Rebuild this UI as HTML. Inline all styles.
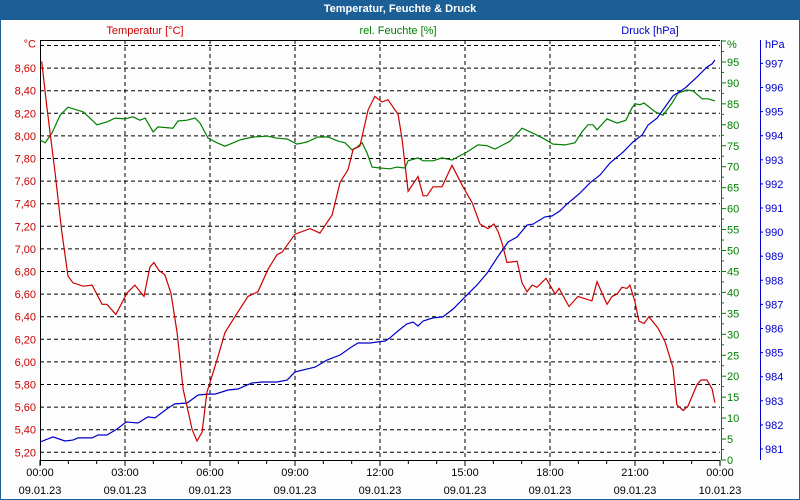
<!DOCTYPE html>
<html><head><meta charset="utf-8"><style>
body{margin:0;width:800px;height:500px;overflow:hidden;background:#fff;font-family:"Liberation Sans",sans-serif;}
#win{position:absolute;left:0;top:0;width:798px;height:498px;border:1px solid #1c5f96;background:#fdfdfd;}
#title{position:absolute;left:0;top:0;width:800px;height:20px;background:#1c5f96;color:#fff;font-weight:bold;font-size:11px;text-align:center;line-height:19px;}
svg{position:absolute;left:0;top:0;}
</style></head><body>
<div id="win"></div>
<div id="title">Temperatur, Feuchte &amp; Druck</div>
<svg id="chart" width="800" height="500"></svg>
<script>
const xTickLabels=["00:00","03:00","06:00","09:00","12:00","15:00","18:00","21:00","00:00"];
const xDateLabels=["09.01.23","09.01.23","09.01.23","09.01.23","09.01.23","09.01.23","09.01.23","09.01.23","10.01.23"];
const tempTicks=[5.2,5.4,5.6,5.8,6.0,6.2,6.4,6.6,6.8,7.0,7.2,7.4,7.6,7.8,8.0,8.2,8.4,8.6];
const humTicks=[0,5,10,15,20,25,30,35,40,45,50,55,60,65,70,75,80,85,90,95];
const presTicks=[981,982,983,984,985,986,987,988,989,990,991,992,993,994,995,996,997];
const tempTimes=[0.06,0.24,0.53,0.77,0.99,1.16,1.52,1.84,2.19,2.36,
2.68,3.07,3.35,3.67,3.88,4.02,4.20,4.41,4.62,4.84,
5.05,5.37,5.54,5.72,5.89,6.25,6.53,6.88,7.34,7.69,
8.05,8.37,8.54,9.00,9.53,9.88,10.31,10.59,10.87,11.05,
11.29,11.58,11.82,12.07,12.28,12.64,12.78,12.99,13.34,13.52,
13.66,13.87,14.19,14.54,14.93,15.25,15.53,15.81,16.02,16.17,
16.31,16.48,16.84,17.01,17.19,17.37,17.54,17.86,18.18,18.32,
18.67,18.99,19.48,19.66,20.01,20.19,20.37,20.54,20.72,20.82,
21.00,21.14,21.32,21.49,21.81,22.06,22.34,22.48,22.70,22.87,
23.19,23.33,23.54,23.72,23.82];
const tempValues=[8.66,8.26,7.68,7.15,6.76,6.70,6.67,6.68,6.51,6.51,
6.42,6.61,6.68,6.58,6.84,6.88,6.81,6.77,6.61,6.26,
5.76,5.40,5.30,5.38,5.73,6.02,6.26,6.40,6.58,6.62,
6.82,6.95,6.97,7.13,7.18,7.14,7.30,7.59,7.70,7.88,
7.91,8.23,8.35,8.30,8.32,8.19,7.97,7.51,7.64,7.47,
7.47,7.55,7.55,7.74,7.55,7.41,7.22,7.18,7.22,7.15,
7.05,6.88,6.89,6.70,6.62,6.68,6.66,6.74,6.60,6.65,
6.49,6.58,6.54,6.71,6.51,6.58,6.60,6.66,6.65,6.68,
6.53,6.36,6.34,6.40,6.30,6.18,5.95,5.62,5.57,5.61,
5.80,5.84,5.84,5.76,5.64];
const humTimes=[0,0.18,0.42,0.71,0.99,1.31,1.52,1.76,2.01,2.36,
2.65,3.0,3.28,3.53,3.71,3.99,4.16,4.69,4.87,5.19,
5.47,5.65,5.93,6.25,6.53,7.06,7.52,8.01,8.37,8.72,
9.07,9.42,9.81,10.16,10.52,10.77,11.01,11.19,11.37,11.54,
11.72,12.0,12.35,12.6,12.88,12.99,13.34,13.52,13.87,14.19,
14.54,15.07,15.46,15.78,16.06,16.34,16.59,17.01,17.4,17.75,
18.11,18.53,18.88,19.13,19.34,19.52,19.66,20.01,20.37,20.68,
20.89,21.0,21.18,21.32,21.71,21.99,22.31,22.52,22.84,23.05,
23.37,23.58,23.82];
const humValues=[76.4,75.7,78.0,82.3,84.2,83.5,83.1,81.6,80.0,80.7,
81.6,81.4,81.9,81.1,81.6,78.3,79.5,79.2,80.9,81.1,
81.6,80.4,76.8,75.7,74.9,76.4,77.1,77.3,76.8,76.6,
75.4,75.9,77.1,77.1,76.1,75.7,74.0,74.7,75.7,73.3,
69.9,69.7,69.5,69.9,69.7,71.4,72.1,71.4,71.4,72.1,
71.6,73.5,75.2,75.0,74.2,75.2,76.1,79.2,78.0,76.8,
75.4,75.2,75.7,78.3,80.0,80.0,78.8,81.4,80.4,81.1,
84.0,85.0,84.8,85.2,83.1,82.3,85.2,87.6,88.3,88.1,
86.2,86.2,85.7];
const presTimes=[0,0.46,0.88,1.16,1.34,1.84,2.05,2.36,2.72,3.04,
3.46,3.81,4.06,4.52,4.76,5.19,5.58,5.93,6.18,6.64,
6.99,7.48,7.84,8.37,8.72,9.0,9.71,10.13,10.59,10.94,
11.22,11.65,12.18,12.35,12.64,12.95,13.17,13.34,13.52,13.87,
14.22,14.58,15.0,15.42,15.78,16.13,16.52,16.84,17.19,17.4,
17.82,18.07,18.35,18.6,18.81,19.06,19.41,19.77,20.12,20.58,
20.93,21.25,21.46,21.78,21.99,22.34,22.77,23.19,23.54,23.72,
23.82];
const presValues=[981.29,981.50,981.33,981.37,981.46,981.46,981.58,981.58,981.83,982.12,
982.08,982.33,982.29,982.70,982.87,982.91,983.24,983.28,983.28,983.45,
983.49,983.74,983.78,983.78,983.86,984.20,984.40,984.69,984.90,985.19,
985.40,985.40,985.48,985.61,985.90,986.19,986.27,986.10,986.31,986.44,
986.48,986.81,987.31,987.80,988.30,988.93,989.59,989.80,990.29,990.33,
990.63,990.67,990.88,991.17,991.37,991.62,992.04,992.37,992.87,993.32,
993.74,994.03,994.44,994.73,995.07,995.65,995.98,996.44,996.85,996.98,
997.14];

const L=40,R=720,T=40,B=460;
const xS=h=>L+h*(R-L)/24;
const yT=v=>452.3-(v-5.2)*113;
const yH=v=>460-v*4.19;
const yP=v=>449-(v-981)*24.1;
const svg=document.getElementById('chart');
const NS='http://www.w3.org/2000/svg';
function mk(tag,attrs,parent){const e=document.createElementNS(NS,tag);for(const k in attrs)e.setAttribute(k,attrs[k]);(parent||svg).appendChild(e);return e;}
function txt(x,y,s,fill,anchor){const e=mk('text',{x:x,y:y,fill:fill,'font-size':'11','text-anchor':anchor||'start','font-family':'Liberation Sans, sans-serif'});e.textContent=s;return e;}

const RED='#cc0000',GREEN='#008000',BLUE='#0000cc';
// series titles
let t=txt(145,34,'Temperatur [°C]',RED,'middle');


t=txt(398,34,'rel. Feuchte [%]',GREEN,'middle');


t=txt(650,34,'Druck [hPa]',BLUE,'middle');



// horizontal grid + temp labels
const g=mk('g',{});


tempTicks.concat([8.8]).forEach(v=>{mk('line',{x1:L,x2:R,y1:yT(v),y2:yT(v),stroke:'#000','stroke-dasharray':'4,3','stroke-width':1},g);});
for(let i=1;i<8;i++){mk('line',{x1:xS(i*3),x2:xS(i*3),y1:T,y2:B,stroke:'#000','stroke-dasharray':'4,3'},g);}
tempTicks.forEach(v=>{const e=txt(36,yT(v)+4,v.toFixed(2).replace('.',','),RED,'end');

});
t=txt(36,yT(8.8)+2,'°C',RED,'end');


// axes
mk('line',{x1:L,x2:R,y1:T+0.5,y2:T+0.5,stroke:'#000'});
mk('line',{x1:L+0.5,x2:L+0.5,y1:T,y2:B+5,stroke:'#000'});
mk('line',{x1:L,x2:R,y1:B+0.5,y2:B+0.5,stroke:'#000'});
for(let h=0;h<=24;h++){mk('line',{x1:xS(h),x2:xS(h),y1:B,y2:B+(h%3==0?6:4),stroke:'#000'});}
xTickLabels.forEach((s,i)=>{const e=txt(xS(i*3),476,s,'#000','middle');


const d=txt(xS(i*3),494,xDateLabels[i],'#000','middle');

});
// humidity axis
mk('line',{x1:721.5,x2:721.5,y1:T,y2:B,stroke:GREEN});
for(let v=0;v<=100;v+=2.5){mk('line',{x1:721,x2:v%5==0?726:724,y1:yH(v),y2:yH(v),stroke:GREEN});}
humTicks.forEach(v=>{const e=txt(727,yH(v)+4,String(v),GREEN);

});
t=txt(727,48,'%',GREEN);


// pressure axis
mk('line',{x1:760.5,x2:760.5,y1:T,y2:B,stroke:BLUE});
presTicks.forEach(v=>{mk('line',{x1:760,x2:763,y1:yP(v),y2:yP(v),stroke:BLUE});
const e=txt(765,yP(v)+4,String(v),BLUE);

});
t=txt(765,48,'hPa',BLUE);


// series
function line(times,vals,yf,color,name){const pts=times.map((h,i)=>xS(h).toFixed(1)+','+yf(vals[i]).toFixed(1)).join(' ');
const p=mk('polyline',{points:pts,fill:'none',stroke:color,'stroke-width':1.2});

}
line(humTimes,humValues,yH,GREEN,'humidity-line');
line(presTimes,presValues,yP,BLUE,'pressure-line');
line(tempTimes,tempValues,yT,RED,'temperature-line');
</script>
</body></html>
